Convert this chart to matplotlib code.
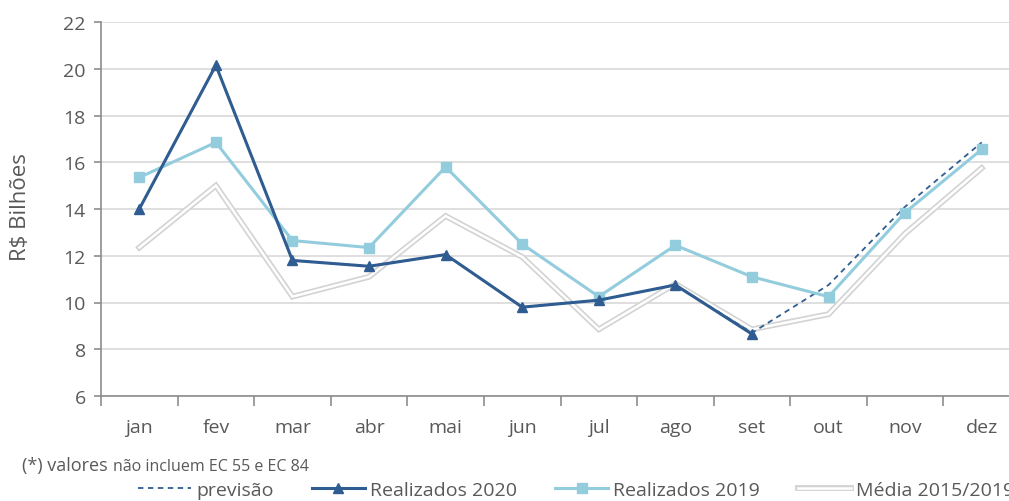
import matplotlib
matplotlib.use("Agg")
import matplotlib.pyplot as plt
from matplotlib.lines import Line2D
import numpy as np

months = ["jan", "fev", "mar", "abr", "mai", "jun", "jul", "ago", "set", "out", "nov", "dez"]
realizados_2020 = [14.0, 20.15, 11.8, 11.55, 12.05, 9.8, 10.1, 10.75, 8.65]
previsao = [14.0, 20.15, 11.8, 11.55, 12.05, 9.8, 10.1, 10.75, 8.7, 10.75, 14.1, 16.85]
realizados_2019 = [15.35, 16.85, 12.65, 12.35, 15.8, 12.5, 10.25, 12.45, 11.1, 10.25, 13.85, 16.55]
media_2015_2019 = [12.35, 15.0, 10.25, 11.1, 13.7, 11.95, 8.85, 10.8, 8.85, 9.5, 12.95, 15.75]
yticks = [6, 8, 10, 12, 14, 16, 18, 20, 22]

plt.rcParams['font.family'] = ['Open Sans', 'DejaVu Sans']

C2020 = "#2F5C91"
C2019 = "#93CDDD"
CGRAY = "#D9D9D9"
TXT = "#595959"

fig = plt.figure(figsize=(10.09, 5.02), dpi=100)
ax = fig.add_axes([101/1009, 105/502, 919/1009, 374/502])

x = np.arange(len(months))

# Média: double line (gray outline, white centre)
ax.plot(x, media_2015_2019, color="#D3D3D3", lw=4.2, solid_joinstyle="miter", zorder=2)
ax.plot(x, media_2015_2019, color="white", lw=1.8, solid_joinstyle="miter", zorder=2.1)

ax.plot(x, previsao, color=C2020, lw=1.3, ls=(0, (3, 2.5)), zorder=3)
ax.plot(x, realizados_2019, color=C2019, lw=2.2, marker="s", ms=6.5, zorder=4)
ax.plot(x[:len(realizados_2020)], realizados_2020, color=C2020, lw=2.2, marker="^", ms=6.5, zorder=5)

ax.set_xlim(-0.5, len(months) - 0.5)
ax.set_ylim(6, 22)
ax.set_yticks(yticks)
ax.set_yticklabels([str(v) for v in yticks])
ax.yaxis.grid(True, color=CGRAY, lw=1.2)
ax.set_axisbelow(True)

ax.set_xticks(np.arange(-0.5, len(months), 1.0))
ax.set_xticklabels([])
ax.set_xticks(x, minor=True)
ax.set_xticklabels(months, minor=True)
ax.tick_params(axis="x", which="major", length=7, width=1.2, color="#8C8C8C", direction="out")
ax.tick_params(axis="x", which="minor", length=0, pad=16, labelsize=14, labelcolor=TXT)
ax.tick_params(axis="y", length=5, width=1.2, color="#8C8C8C", pad=6, labelsize=14, labelcolor=TXT)

for s in ["top", "right"]:
    ax.spines[s].set_visible(False)
for s in ["left", "bottom"]:
    ax.spines[s].set_color("#8C8C8C")
    ax.spines[s].set_linewidth(1.2)

fig.text(21/1009, 1 - 207/502, "R$ Bilhões", fontsize=16, color=TXT, rotation=90,
         va="center", ha="center")

# footnote
fig.text(22/1009, 1 - 466/502, "(*) valores", fontsize=13, color=TXT, va="center", ha="left")
fig.text(113/1009, 1 - 467/502, "não incluem EC 55 e EC 84", fontsize=11.5, color=TXT,
         va="center", ha="left")

# legend
h_prev = Line2D([], [], color=C2020, lw=1.3, ls=(0, (3, 2.5)))
h_2020 = Line2D([], [], color=C2020, lw=2.2, marker="^", ms=6.5)
h_2019 = Line2D([], [], color=C2019, lw=2.2, marker="s", ms=6.5)
h_med_o = Line2D([], [], color="#D3D3D3", lw=4.2)
h_med_i = Line2D([], [], color="white", lw=1.8)
leg = fig.legend([h_prev, h_2020, h_2019, (h_med_o, h_med_i)],
                 ["previsão", "Realizados 2020", "Realizados 2019", "Média 2015/2019"],
                 loc="center left", bbox_to_anchor=(138/1009, 1 - 491/502), ncol=4,
                 frameon=False, fontsize=14, handlelength=2.73, handletextpad=0.26,
                 columnspacing=1.96, borderpad=0, borderaxespad=0, markerscale=1.0)
for t in leg.get_texts():
    t.set_color(TXT)

fig.savefig("out.png", dpi=100)
